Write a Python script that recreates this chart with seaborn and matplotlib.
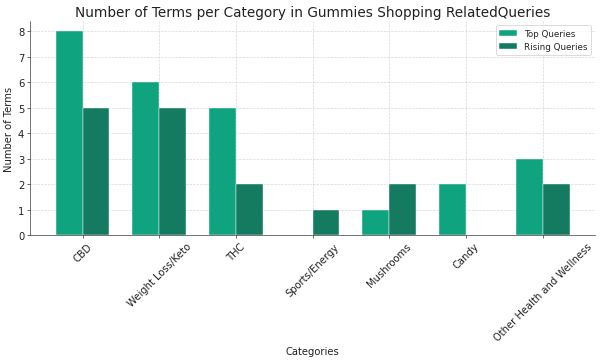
import matplotlib
matplotlib.use("Agg")
import matplotlib.pyplot as plt
import seaborn as sns
import pandas as pd

categories = ["CBD", "Weight Loss/Keto", "THC", "Sports/Energy", "Mushrooms", "Candy",
              "Other Health and Wellness"]
top_queries = [8, 6, 5, 0, 1, 2, 3]
rising_queries = [5, 5, 2, 1, 2, 0, 2]
series_names = ["Top Queries", "Rising Queries"]
colors = ["#10a37f", "#147a60"]

df = pd.DataFrame({
    "Category": categories * 2,
    "Count": top_queries + rising_queries,
    "Series": [series_names[0]] * len(categories) + [series_names[1]] * len(categories),
})

sns.set_style("ticks")
plt.rcParams["font.family"] = ["DejaVu Sans"]

fig, ax = plt.subplots(figsize=(10, 6.033), dpi=60)
sns.barplot(data=df, x="Category", y="Count", hue="Series", palette=colors,
            saturation=1, width=0.7, edgecolor="white", linewidth=0.5, ax=ax, zorder=2)

ax.set_axisbelow(True)
ax.grid(True, linestyle="--", linewidth=0.8, color="#cccccc", alpha=0.8)
ax.set_title("Number of Terms per Category in Gummies Shopping RelatedQueries", fontsize=16.3,
             color="#222222")
ax.set_xlabel("Categories", fontsize=12, labelpad=4, color="#222222")
ax.set_ylabel("Number of Terms", fontsize=12, color="#222222")
ax.tick_params(axis="both", labelsize=12, colors="#222222")
plt.setp(ax.get_xticklabels(), rotation=45)
ax.set_xlim(-0.685, 6.685)
ax.set_ylim(0, 8.4)
sns.despine(ax=ax)
for s in ["left", "bottom"]:
    ax.spines[s].set_color("#333333")
leg = ax.legend(loc="upper right", fontsize=10.5, title=None)
fig.subplots_adjust(left=0.05, right=0.992, top=0.939, bottom=0.348)
fig.savefig("out.png", dpi=60)
